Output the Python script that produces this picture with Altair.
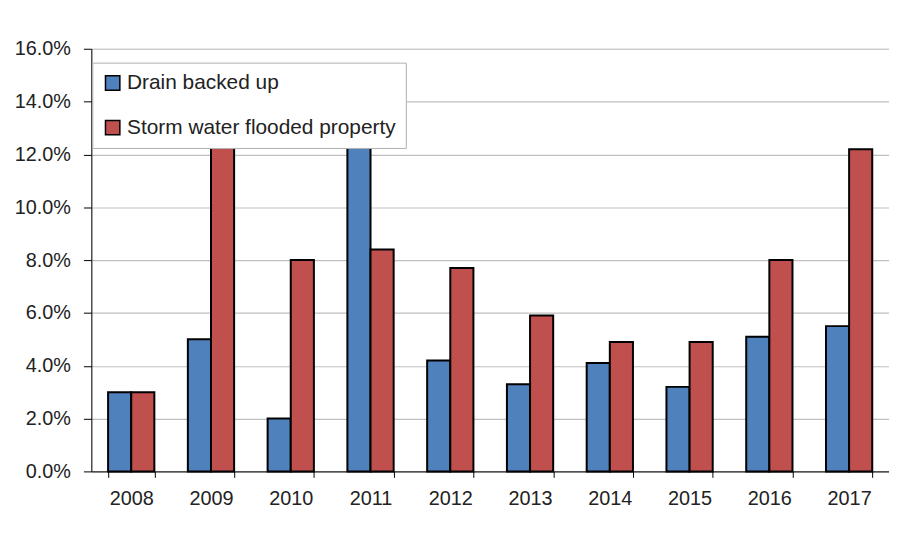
import altair as alt
import pandas as pd

years = ["2008", "2009", "2010", "2011", "2012", "2013", "2014", "2015", "2016", "2017"]
drain_backed_up = [3.0, 5.0, 2.0, 13.5, 4.2, 3.3, 4.1, 3.2, 5.1, 5.5]
storm_flooded = [3.0, 13.5, 8.0, 8.4, 7.7, 5.9, 4.9, 4.9, 8.0, 12.2]
series = ["Drain backed up", "Storm water flooded property"]

rows = []
for i, y in enumerate(years):
    rows.append({"year": y, "series": series[0], "value": drain_backed_up[i] / 100})
    rows.append({"year": y, "series": series[1], "value": storm_flooded[i] / 100})
df = pd.DataFrame(rows)

FONT = "Liberation Sans"

bars = alt.Chart(df).mark_bar(stroke="black", strokeWidth=2).encode(
    x=alt.X(
        "year:N",
        sort=years,
        title=None,
        scale=alt.Scale(paddingInner=0.42, paddingOuter=0.21),
        axis=alt.Axis(
            labelAngle=0,
            labelFont=FONT,
            labelFontSize=20,
            labelColor="#222222",
            labelPadding=11,
            tickBand="extent",
            tickSize=6,
            tickColor="#000000",
            domainColor="#000000",
            domainWidth=1,
            grid=False,
        ),
    ),
    xOffset=alt.XOffset("series:N", sort=series, scale=alt.Scale(paddingInner=0, paddingOuter=0)),
    y=alt.Y(
        "value:Q",
        title=None,
        scale=alt.Scale(domain=[0, 0.16], nice=False, zero=True),
        axis=alt.Axis(
            format=".1%",
            values=[0, 0.02, 0.04, 0.06, 0.08, 0.10, 0.12, 0.14, 0.16],
            labelFont=FONT,
            labelFontSize=20,
            labelColor="#222222",
            labelPadding=13,
            tickSize=8,
            tickColor="#000000",
            domainColor="#000000",
            domainWidth=1,
            grid=True,
            gridColor="#c0c0c0",
            gridWidth=1.2,
        ),
    ),
    color=alt.Color(
        "series:N",
        sort=series,
        scale=alt.Scale(domain=series, range=["#4F81BD", "#C0504D"]),
        legend=alt.Legend(
            title=None,
            orient="none",
            legendX=1,
            legendY=14,
            direction="vertical",
            fillColor="white",
            strokeColor="#b0b0b0",
            padding=10,
            rowPadding=23,
            symbolType="square",
            symbolSize=210,
            symbolStrokeColor="black",
            symbolStrokeWidth=1.5,
            symbolOffset=0,
            labelFont=FONT,
            labelFontSize=21,
            labelColor="#222222",
            labelOffset=4,
            labelLimit=400,
        ),
    ),
)

chart = bars.properties(
    width=804,
    height=426,
    autosize=alt.AutoSizeParams(type="none"),
    padding={"left": 84, "top": 39, "right": 0, "bottom": 60},
).configure_view(stroke=None).configure(background="white")

chart.save("out.html", embed_options={"renderer": "svg", "actions": False})
